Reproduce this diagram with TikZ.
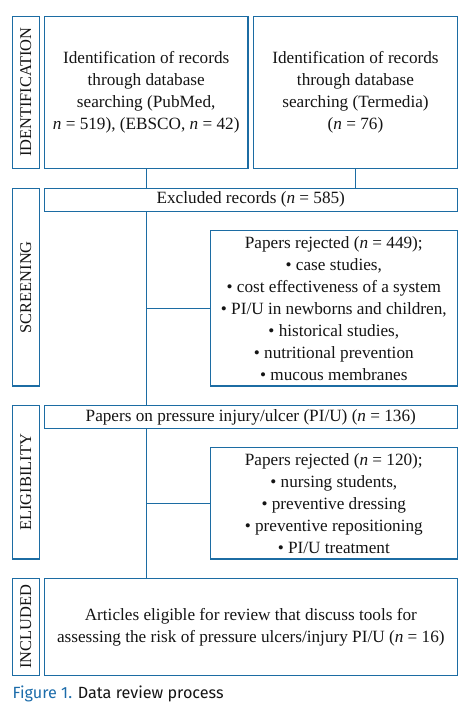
\documentclass[tikz,border=0pt]{standalone}
\usepackage{fontspec}
\setmainfont{Liberation Serif}
\newfontfamily\capfont{Fira Sans}
\definecolor{lineblue}{RGB}{28,108,163}
\definecolor{capblue}{RGB}{28,108,170}
\definecolor{textdark}{RGB}{20,20,20}
\begin{document}
\begin{tikzpicture}[x=1pt,y=-1pt,
  box/.style={draw=lineblue,line width=1.2pt,rectangle,inner sep=0pt,align=center,text=textdark,font=\fontsize{17.2}{22}\selectfont},
  lab/.style={draw=lineblue,line width=1.2pt,rectangle,inner sep=0pt,minimum width=27pt},
  labtext/.style={rotate=90,text=textdark,font=\fontsize{16.4}{18}\selectfont},
  conn/.style={draw=lineblue,line width=1.2pt}]
\useasboundingbox (0,0) rectangle (470,708);
% stage labels
\node[lab,minimum height=152pt] (lid) at (25.8,92.3) {};
\node[labtext] (tid) at (lid.center) {IDENTIFICATION};
\node[lab,minimum height=197.7pt] (lsc) at (25.8,287.2) {};
\node[labtext] (tsc) at (lsc.center) {SCREENING};
\node[lab,minimum height=153.3pt] (lel) at (25.8,482.3) {};
\node[labtext] (tel) at (lel.center) {ELIGIBILITY};
\node[lab,minimum height=97pt] (lin) at (25.8,626.8) {};
\node[labtext] (tin) at (lin.center) {INCLUDED};
% boxes
\node[box,minimum width=203.7pt,minimum height=152pt] (A) at (146.2,92.3)
  {Identification of records\\through database\\searching (PubMed,\\\textit{n} = 519), (EBSCO, \textit{n} = 42)};
\node[box,minimum width=204.4pt,minimum height=152pt] (B) at (355.5,92.3)
  {Identification of records\\through database\\searching (Termedia)\\(\textit{n} = 76)};
\node[box,minimum width=413pt,minimum height=23pt] (E) at (250.8,199.8)
  {Excluded records (\textit{n} = 585)};
\node[box,minimum width=247pt,minimum height=155.3pt] (R1) at (333.8,308.3)
  {Papers rejected (\textit{n} = 449);\\\textbullet\ case studies,\\\textbullet\ cost effectiveness of a system\\\textbullet\ PI/U in newborns and children,\\\textbullet\ historical studies,\\\textbullet\ nutritional prevention\\\textbullet\ mucous membranes};
\node[box,minimum width=413pt,minimum height=22.6pt] (P) at (250.8,417)
  {Papers on pressure injury/ulcer (PI/U) (\textit{n} = 136)};
\node[box,minimum width=247pt,minimum height=111.3pt] (R2) at (333.8,503.3)
  {Papers rejected (\textit{n} = 120);\\\textbullet\ nursing students,\\\textbullet\ preventive dressing\\\textbullet\ preventive repositioning\\\textbullet\ PI/U treatment};
\node[box,minimum width=413pt,minimum height=97pt] (F) at (250.8,626.8)
  {Articles eligible for review that discuss tools for\\assessing the risk of pressure ulcers/injury PI/U (\textit{n} = 16)};
% connectors
\draw[conn] (A.south) -- (A.south |- E.north);
\draw[conn] (B.south) -- (B.south |- E.north);
\draw[conn] (A.south |- E.south) -- (A.south |- P.north);
\draw[conn] (A.south |- P.south) -- (A.south |- F.north);
\draw[conn] (A.south |- R1.west) -- (R1.west);
\draw[conn] (A.south |- R2.west) -- (R2.west);
% caption
\node[anchor=base west,inner sep=0pt,font=\capfont\fontsize{16.2}{18}\selectfont,text=textdark] (cap) at (12.5,698)
  {\textcolor{capblue}{Figure 1.} Data review process};
\end{tikzpicture}
\end{document}
